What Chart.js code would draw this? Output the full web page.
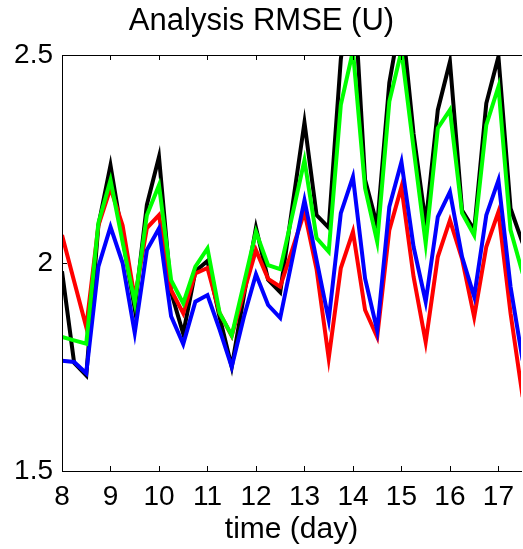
<!DOCTYPE html>
<html>
<head>
<meta charset="utf-8">
<title>Analysis RMSE (U)</title>
<script src="https://cdn.jsdelivr.net/npm/chart.js@4/dist/chart.umd.min.js"></script>
<style>
    html, body { margin: 0; padding: 0; background: #fff; }
    #rmseCanvas { display: block; }
</style>
</head>
<body>
<canvas id="rmseCanvas" width="523" height="549"></canvas>
<script>
// 6-hourly analysis times (day)
var days = [8, 8.25, 8.5, 8.75, 9, 9.25, 9.5, 9.75, 10, 10.25, 10.5, 10.75, 11, 11.25, 11.5, 11.75,
    12, 12.25, 12.5, 12.75, 13, 13.25, 13.5, 13.75, 14, 14.25, 14.5, 14.75, 15, 15.25, 15.5, 15.75,
    16, 16.25, 16.5, 16.75, 17, 17.25, 17.5];

// RMSE of U for each run
var rmseBlack = [1.98, 1.76, 1.73, 2.09, 2.235, 2.06, 1.89, 2.14, 2.255, 1.93, 1.83, 1.98, 2.005, 1.87, 1.75, 1.92,
    2.085, 1.96, 1.93, 2.135, 2.338, 2.115, 2.085, 2.49, 2.7, 2.2, 2.09, 2.433, 2.6, 2.31, 2.095, 2.368,
    2.484, 2.127, 2.079, 2.384, 2.496, 2.131, 2.048];
var rmseRed = [2.067, 1.956, 1.846, 2.09, 2.18, 2.09, 1.915, 2.084, 2.115, 1.935, 1.879, 1.975, 1.988, 1.88, 1.825, 1.93,
    2.031, 1.962, 1.943, 2.033, 2.123, 1.985, 1.771, 1.988, 2.075, 1.887, 1.822, 2.079, 2.183, 1.967, 1.81, 2.015,
    2.103, 2.01, 1.87, 2.039, 2.123, 1.879, 1.678];
var rmseGreen = [1.822, 1.814, 1.806, 2.096, 2.199, 2.05, 1.905, 2.115, 2.187, 1.959, 1.903, 1.991, 2.035, 1.88, 1.826, 1.95,
    2.075, 1.995, 1.985, 2.115, 2.247, 2.06, 2.027, 2.38, 2.51, 2.18, 2.051, 2.388, 2.51, 2.276, 2.047, 2.324,
    2.368, 2.12, 2.067, 2.332, 2.424, 2.079, 1.975];
var rmseBlue = [1.765, 1.762, 1.735, 1.991, 2.087, 2.0, 1.832, 2.031, 2.083, 1.872, 1.805, 1.907, 1.923, 1.84, 1.75, 1.87,
    1.973, 1.899, 1.868, 2.01, 2.151, 2.007, 1.863, 2.12, 2.207, 1.963, 1.838, 2.135, 2.243, 2.039, 1.907, 2.111,
    2.171, 2.015, 1.919, 2.115, 2.199, 1.943, 1.766];

var xTicks = [8, 9, 10, 11, 12, 13, 14, 15, 16, 17];
var yTicks = [1.5, 2, 2.5];

var FONT = '"Liberation Sans", Arial, Helvetica, sans-serif';

function toPoints(vals) {
    return vals.map(function (v, i) { return { x: days[i], y: v }; });
}

// axes box with inward tick marks
var axesBox = {
    id: 'axesBox',
    afterDatasetsDraw: function (chart) {
        var ctx = chart.ctx, a = chart.chartArea;
        var x = chart.scales.x, y = chart.scales.y;
        var tl = 5;
        ctx.save();
        ctx.strokeStyle = '#000';
        ctx.lineWidth = 1;
        ctx.beginPath();
        ctx.moveTo(a.left + 0.5, a.top + 0.5);
        ctx.lineTo(a.left + 0.5, a.bottom + 0.5);
        ctx.lineTo(a.right + 1, a.bottom + 0.5);
        ctx.moveTo(a.left + 0.5, a.top + 0.5);
        ctx.lineTo(a.right + 1, a.top + 0.5);
        xTicks.forEach(function (v) {
            var px = Math.round(x.getPixelForValue(v)) + 0.5;
            ctx.moveTo(px, a.bottom);
            ctx.lineTo(px, a.bottom - tl);
            ctx.moveTo(px, a.top);
            ctx.lineTo(px, a.top + tl);
        });
        yTicks.forEach(function (v) {
            var py = Math.round(y.getPixelForValue(v)) + 0.5;
            ctx.moveTo(a.left, py);
            ctx.lineTo(a.left + tl, py);
        });
        ctx.stroke();
        ctx.restore();
    }
};

var ctx = document.getElementById('rmseCanvas');
var rmseChart = new Chart(ctx, {
    type: 'line',
    data: {
        datasets: [
            { label: 'green', data: toPoints(rmseGreen), borderColor: '#00ff00' },
            { label: 'blue', data: toPoints(rmseBlue), borderColor: '#0000ff' },
            { label: 'red', data: toPoints(rmseRed), borderColor: '#ff0000' },
            { label: 'black', data: toPoints(rmseBlack), borderColor: '#000000' }
        ]
    },
    options: {
        responsive: false,
        animation: false,
        layout: { padding: 0 },
        datasets: {
            line: {
                borderWidth: 4,
                pointRadius: 0,
                tension: 0,
                fill: false,
                clip: 0,
                borderJoinStyle: 'miter'
            }
        },
        plugins: {
            legend: { display: false },
            tooltip: { enabled: false },
            title: {
                display: true,
                text: 'Analysis RMSE (U)',
                color: '#000',
                font: { family: FONT, size: 31, weight: 'normal', lineHeight: 1.2 },
                padding: { top: 3, bottom: 14.8 }
            }
        },
        scales: {
            x: {
                type: 'linear',
                min: 8,
                max: 17.466,
                grid: { display: false, drawTicks: false },
                border: { display: false },
                afterBuildTicks: function (s) {
                    s.ticks = xTicks.map(function (v) { return { value: v }; });
                },
                afterFit: function (s) { s.height = 78; },
                ticks: {
                    color: '#000',
                    padding: 9,
                    maxRotation: 0,
                    autoSkip: false,
                    font: { family: FONT, size: 28 },
                    callback: function (v) { return String(v); }
                },
                title: {
                    display: true,
                    text: 'time (day)',
                    color: '#000',
                    font: { family: FONT, size: 30 },
                    padding: { top: 0, bottom: 1 }
                }
            },
            y: {
                min: 1.5,
                max: 2.5,
                grid: { display: false, drawTicks: false },
                border: { display: false },
                afterBuildTicks: function (s) {
                    s.ticks = yTicks.map(function (v) { return { value: v }; });
                },
                afterFit: function (s) { s.width = 62; },
                ticks: {
                    color: '#000',
                    padding: 9,
                    autoSkip: false,
                    font: { family: FONT, size: 28 },
                    callback: function (v) { return String(v); }
                }
            }
        }
    },
    plugins: [axesBox]
});
</script>
</body>
</html>
